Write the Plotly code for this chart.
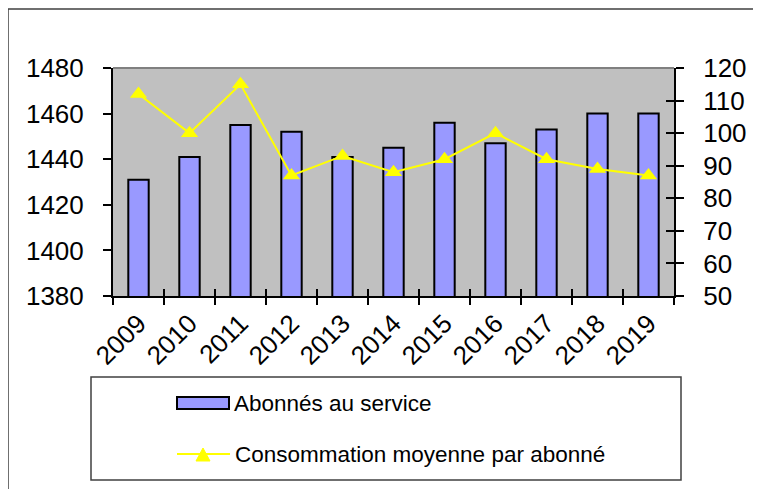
import plotly.graph_objects as go

years = ["2009", "2010", "2011", "2012", "2013", "2014", "2015", "2016", "2017", "2018", "2019"]
abonnes = [1431, 1441, 1455, 1452, 1441, 1445, 1456, 1447, 1453, 1460, 1460]
consommation = [112, 100, 115, 87, 93, 88, 92, 100, 92, 89, 87]
left_ticks = [1380, 1400, 1420, 1440, 1460, 1480]
right_ticks = [50, 60, 70, 80, 90, 100, 110, 120]

W, H = 761, 489
OFF = 8  # default page body margin
L, R, T, B = 113, 674, 68, 296
FONT = "Liberation Sans, Arial, sans-serif"


def px(x):
    return (x - L) / (R - L)


def py(y):
    return (B - y) / (B - T)


fig = go.Figure()
fig.add_trace(go.Bar(
    x=years, y=abonnes, name="Abonnés au service",
    marker=dict(color="#9999ff", line=dict(color="black", width=2)),
    width=0.4, yaxis="y", showlegend=False,
))
fig.add_trace(go.Scatter(
    x=years, y=consommation, name="Consommation moyenne par abonné",
    mode="lines+markers", yaxis="y2",
    line=dict(color="#ffff00", width=2),
    marker=dict(symbol="triangle-up", size=15, color="#ffff00"),
    showlegend=False,
))
# invisible trace to carry the inside-tick overlay axes
fig.add_trace(go.Scatter(
    x=years, y=consommation, xaxis="x3", yaxis="y3", mode="markers",
    marker=dict(opacity=0), hoverinfo="skip", showlegend=False,
))

tickfont = dict(family=FONT, size=26, color="black")

fig.update_layout(
    width=W - OFF, height=H - OFF,
    margin=dict(l=L - OFF, r=W - R, t=T - OFF, b=H - B),
    paper_bgcolor="white", plot_bgcolor="#c0c0c0",
    bargap=0.6,
    xaxis=dict(type="category", range=[-0.5, 10.5], tickson="boundaries",
               ticks="outside", ticklen=7, tickwidth=1.5, tickcolor="black",
               showline=True, linecolor="black", linewidth=2,
               tickangle=-45, tickfont=tickfont, showgrid=False, fixedrange=True),
    xaxis3=dict(type="category", range=[-0.5, 10.5], tickson="boundaries",
                overlaying="x", ticks="inside", ticklen=7, tickwidth=1.5,
                tickcolor="black", showticklabels=False, showgrid=False,
                showline=False, side="bottom"),
    yaxis=dict(range=[1380, 1480], tickvals=left_ticks, ticks="outside",
               ticklen=8, tickwidth=1.5, tickcolor="black",
               showline=True, linecolor="black", linewidth=2,
               tickfont=tickfont, showgrid=False, zeroline=False,
               ticklabelstandoff=14),
    yaxis2=dict(range=[50, 120], tickvals=right_ticks, overlaying="y",
                side="right", ticks="outside", ticklen=8, tickwidth=1.5,
                tickcolor="black", showline=True, linecolor="black",
                linewidth=2, tickfont=tickfont, showgrid=False,
                zeroline=False, ticklabelstandoff=14),
    yaxis3=dict(range=[50, 120], tickvals=right_ticks, overlaying="y",
                side="right", ticks="inside", ticklen=8, tickwidth=1.5,
                tickcolor="black", showticklabels=False, showgrid=False,
                showline=False, zeroline=False),
    showlegend=False,
)

shapes = []
# plot area top border
shapes.append(dict(type="line", xref="paper", yref="paper", x0=0, x1=1, y0=1, y1=1,
                   line=dict(color="#808080", width=2)))
# outer chart border (right/bottom run off the picture)
shapes.append(dict(type="rect", xref="paper", yref="paper",
                   x0=px(8), x1=px(800), y0=py(9), y1=py(560),
                   line=dict(color="#404040", width=1.5)))
# legend box
shapes.append(dict(type="rect", xref="paper", yref="paper",
                   x0=px(91), x1=px(681), y0=py(377), y1=py(480),
                   line=dict(color="#404040", width=1.5), fillcolor="white"))
# legend bar swatch
shapes.append(dict(type="rect", xref="paper", yref="paper",
                   x0=px(177), x1=px(229), y0=py(397), y1=py(409),
                   line=dict(color="black", width=2), fillcolor="#9999ff"))
# legend line swatch
shapes.append(dict(type="line", xref="paper", yref="paper",
                   x0=px(177), x1=px(230), y0=py(454), y1=py(454),
                   line=dict(color="#ffff00", width=2)))
# legend triangle marker
tri = "M {},{} L {},{} L {},{} Z".format(px(196), py(461), px(210), py(461), px(203), py(448))
shapes.append(dict(type="path", xref="paper", yref="paper", path=tri,
                   fillcolor="#ffff00", line=dict(color="#ffff00", width=1)))
fig.update_layout(shapes=shapes)

legfont = dict(family=FONT, size=22.5, color="black")
fig.add_annotation(x=px(232), y=py(403), xref="paper", yref="paper",
                   text="Abonnés au service", showarrow=False,
                   xanchor="left", yanchor="middle", font=legfont)
fig.add_annotation(x=px(233), y=py(454), xref="paper", yref="paper",
                   text="Consommation moyenne par abonné", showarrow=False,
                   xanchor="left", yanchor="middle", font=legfont)

fig.write_html("out.html")
